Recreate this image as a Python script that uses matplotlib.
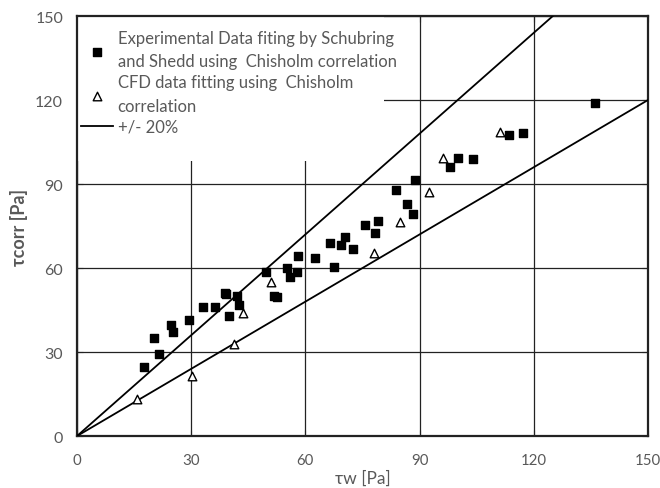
import matplotlib
matplotlib.use("Agg")
import matplotlib.pyplot as plt
from matplotlib.patches import Rectangle
import numpy as np

plt.rcParams['font.family'] = ['Lato', 'DejaVu Sans']

exp_x = [17.7, 20.3, 21.5, 24.7, 25.3, 29.4, 33.0, 36.2, 38.8, 39.1, 40.0, 42.0, 42.6,
         49.7, 51.7, 52.6, 55.1, 56.0, 57.9, 58.1, 62.5, 66.4, 67.5, 69.4, 70.5, 72.6,
         75.7, 78.3, 79.0, 83.8, 86.8, 88.2, 88.7, 97.9, 100.2, 104.1, 113.6, 117.2, 136.0]
exp_y = [24.8, 34.9, 29.2, 39.8, 37.0, 41.6, 46.2, 46.2, 51.2, 50.6, 42.8, 50.1, 46.8,
         58.4, 50.1, 49.6, 59.9, 56.7, 58.4, 64.3, 63.7, 68.8, 60.4, 68.2, 71.1, 66.7,
         75.5, 72.4, 76.9, 87.8, 83.0, 79.2, 91.4, 95.9, 99.2, 98.9, 107.5, 108.2, 118.8]

cfd_x = [15.7, 30.3, 41.2, 43.5, 50.9, 78.0, 84.8, 92.5, 96.1, 111.1]
cfd_y = [13.1, 21.4, 32.7, 43.9, 55.0, 65.5, 76.4, 87.1, 99.3, 108.4]

band_x = [0, 150]
upper_factor = 1.2
lower_factor = 0.8

x_ticks = [0, 30, 60, 90, 120, 150]
y_ticks = [0, 30, 60, 90, 120, 150]

fig = plt.figure(figsize=(6.6, 4.89), dpi=100)
ax = fig.add_axes([0.1167, 0.1063, 0.9818 - 0.1167, 0.9652 - 0.1063])

bx = np.array(band_x, dtype=float)
l1, = ax.plot(bx, upper_factor * bx, color='black', lw=1.3, zorder=3, label='+/- 20%')
ax.plot(bx, lower_factor * bx, color='black', lw=1.3, zorder=3)

s1 = ax.scatter(exp_x, exp_y, marker='s', s=30, color='black', zorder=4,
                label='Experimental Data fiting by Schubring\nand Shedd using  Chisholm correlation')
s2 = ax.scatter(cfd_x, cfd_y, marker='^', s=38, facecolors='white', edgecolors='black',
                linewidths=1.0, zorder=4,
                label='CFD data fitting using  Chisholm\ncorrelation')

ax.set_xlim(0, 150)
ax.set_ylim(0, 150)
ax.set_xticks(x_ticks)
ax.set_yticks(y_ticks)
ax.grid(True, color='#222222', lw=0.9, zorder=1)
ax.set_axisbelow(True)
for sp in ax.spines.values():
    sp.set_color('#222222')
    sp.set_linewidth(1.6)
ax.tick_params(direction='in', top=True, right=True, length=4, color='#222222',
               labelsize=11.5, labelcolor='#595959')
ax.tick_params(axis='x', pad=12, labelsize=10.8)
ax.tick_params(axis='y', pad=10)

# white legend background area (covers gridlines as in the original)
ax.add_patch(Rectangle((0, 0.655), 0.538, 0.345, transform=ax.transAxes,
                       facecolor='white', edgecolor='none', zorder=1.5))

ax.set_xlabel('τw [Pa]', fontsize=12.5, color='#595959', labelpad=2)
ax.set_ylabel('τcorr [Pa]', fontsize=13, color='#595959', fontweight='bold', labelpad=5)

leg = ax.legend(handles=[s1, s2, l1], loc='upper left', bbox_to_anchor=(-0.005, 0.982),
                fontsize=12, frameon=False, borderaxespad=0.0, handlelength=1.9,
                handletextpad=0.3, labelspacing=0.3, borderpad=0.4)
for t in leg.get_texts():
    t.set_color('#595959')
    t.set_linespacing(1.55)
leg.set_zorder(5)

fig.savefig('out.png', dpi=100)
